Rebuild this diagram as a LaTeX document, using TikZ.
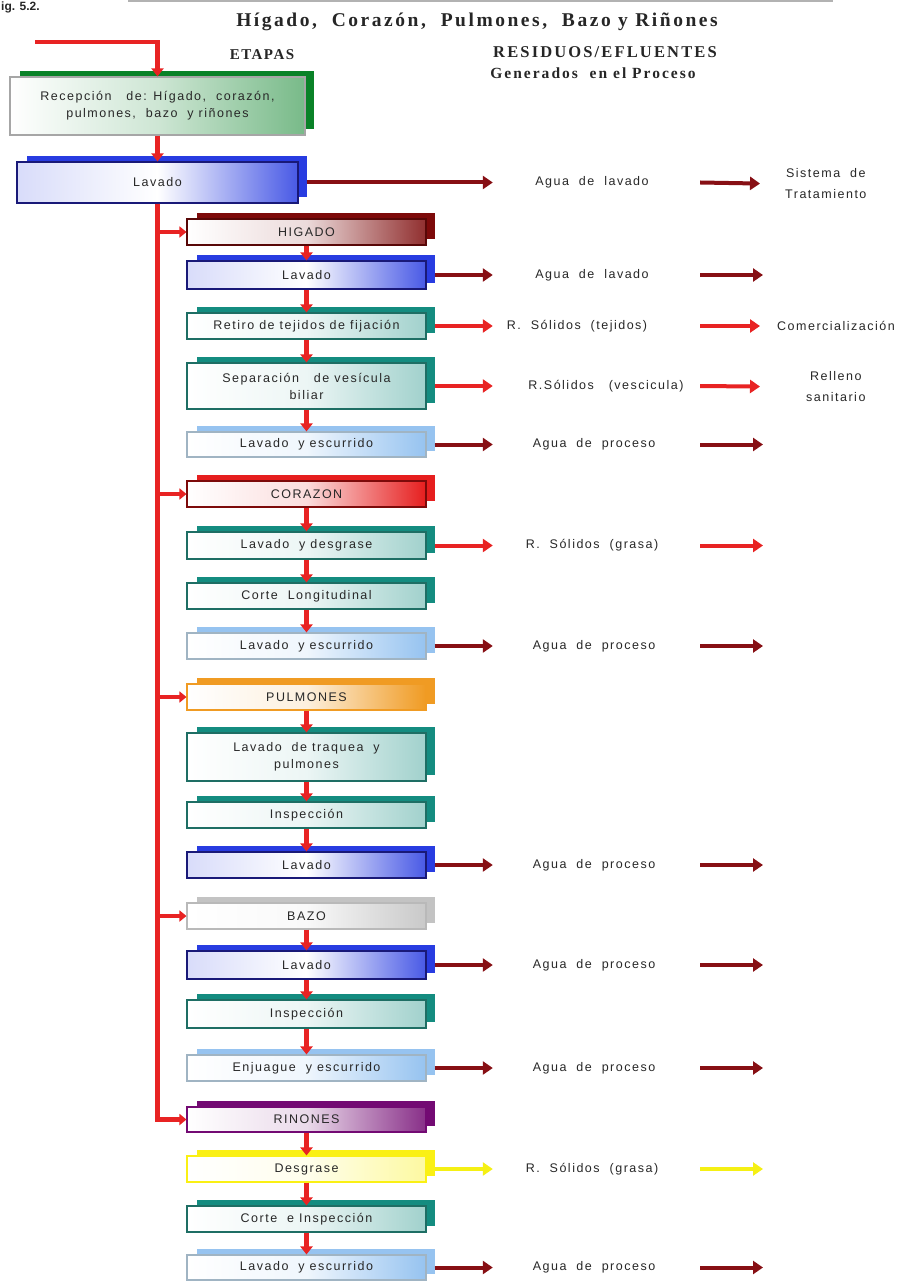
\documentclass[tikz,border=0pt]{standalone}
\usepackage{fontspec}
\usetikzlibrary{arrows.meta,calc}
\newfontfamily\boxfont[LetterSpace=12]{Liberation Sans}
\newfontfamily\headfont[LetterSpace=10]{Liberation Serif}
\newfontfamily\headwide[LetterSpace=13]{Liberation Serif}
\newfontfamily\figfont{Liberation Sans}
\definecolor{txt}{RGB}{40,40,40}
\definecolor{cmaroon}{RGB}{125,10,10}
\definecolor{cblue}{RGB}{40,60,225}
\definecolor{cnavy}{RGB}{25,25,120}
\definecolor{cteal}{RGB}{20,140,128}
\definecolor{ctealdk}{RGB}{30,110,100}
\definecolor{csky}{RGB}{150,195,240}
\definecolor{cskybd}{RGB}{160,180,195}
\definecolor{cgreen}{RGB}{10,130,40}
\definecolor{cred}{RGB}{230,30,30}
\definecolor{corange}{RGB}{240,155,35}
\definecolor{cgray}{RGB}{195,195,195}
\definecolor{cpurple}{RGB}{115,10,115}
\definecolor{cyellow}{RGB}{250,240,20}
\definecolor{adark}{RGB}{135,15,20}
\definecolor{ared}{RGB}{232,35,35}
\definecolor{ayel}{RGB}{245,240,20}
% stage box: name, cx, cy, w, h, kind, text
\newcommand{\stage}[7]{%
  \fill[#6back] ({#2-#4/2+10},{#3-#5/2-6}) rectangle ({#2+#4/2+9},{#3+#5/2-6});
  \node[stagebox,#6,minimum width=#4,minimum height=#5] (#1) at (#2,#3) {#7};}
% waste label: box, id, colour, shift, text, y
\newcommand{\waste}[6]{%
  \node[wlabel] (w#2) at (596.5,#6) {\hspace*{#4pt}#5};
  \draw[side,draw=#3,fill=#3,shorten <=8] (#1.east) -- (w#2.west);}
\begin{document}
\begin{tikzpicture}[x=1pt,y=-1pt,
  stagebox/.style={rectangle, inner sep=0pt, line width=1.1pt, align=center,
    font=\boxfont\fontsize{12.5}{17}\selectfont, text=txt},
  wlabel/.style={rectangle, inner sep=0pt, minimum width=207, minimum height=14,
    font=\boxfont\fontsize{12.5}{15}\selectfont, text=txt},
  dlabel/.style={inner sep=0pt, align=center, anchor=west,
    font=\boxfont\fontsize{12.5}{21}\selectfont, text=txt},
  grn/.style={draw=gray!70, left color=white, right color=cgreen!55, middle color=white!80!cgreen},
  grnback/.style={fill=cgreen},
  blu/.style={draw=cnavy, left color=cblue!18, right color=cblue!85, middle color=white},
  bluback/.style={fill=cblue},
  tea/.style={draw=ctealdk, left color=white, right color=cteal!40, middle color=white!92!cteal},
  teaback/.style={fill=cteal},
  sky/.style={draw=cskybd, left color=white, right color=csky, middle color=white!85!csky},
  skyback/.style={fill=csky},
  mar/.style={draw=cmaroon!70!black, left color=white, right color=cmaroon!85, middle color=white!85!cmaroon},
  marback/.style={fill=cmaroon},
  rd/.style={draw=cmaroon, left color=white, right color=cred, middle color=white!85!cred},
  rdback/.style={fill=cred},
  ora/.style={draw=corange, left color=white, right color=corange, middle color=white!85!corange},
  oraback/.style={fill=corange},
  gry/.style={draw=gray!55, left color=white, right color=cgray!90, middle color=white!90!cgray},
  gryback/.style={fill=cgray},
  pur/.style={draw=cpurple, left color=white, right color=cpurple!85, middle color=white!85!cpurple},
  purback/.style={fill=cpurple},
  yel/.style={draw=cyellow, left color=white, right color=cyellow!40, middle color=white!92!cyellow},
  yelback/.style={fill=cyellow},
  flow/.style={draw=ared, line width=4.5pt, -{Triangle[length=8pt,width=12pt]}},
  branch/.style={draw=ared, line width=3.5pt, -{Triangle[length=7pt,width=11pt]}},
  side/.style={line width=4pt, -{Triangle[length=10pt,width=13pt]}}
]
\useasboundingbox (0,0) rectangle (900,1281);
\clip (0,0) rectangle (900,1281);
\fill[white] (0,0) rectangle (900,1281);

% header
\node[font=\figfont\bfseries\fontsize{12}{14}\selectfont, text=black!85, anchor=base west, inner sep=0pt] (fig) at (1,11) {ig. 5.2.};
\draw[gray!60, line width=1.2pt] (128,1) -- (833,1);
\node[font=\headwide\bfseries\fontsize{19.5}{22}\selectfont, text=black!85] (title) at (477,22) {Hígado,\ \ Corazón,\ \ Pulmones,\ \ Bazo y Riñones};
\node[font=\headfont\bfseries\fontsize{15}{18}\selectfont, text=black!85] (etapas) at (262,55) {ETAPAS};
\node[font=\headwide\bfseries\fontsize{16.5}{18}\selectfont, text=black!85] (resid) at (605,52) {RESIDUOS/EFLUENTES};
\node[font=\headwide\bfseries\fontsize{15.5}{17}\selectfont, text=black!85] (gener) at (593,73) {Generados\ \ en el Proceso};

% main stages
\stage{rec}{157.5}{106}{295}{58}{grn}{\fontsize{12.5}{25}\selectfont Recepción\ \ \ de: Hígado,\ \ corazón,\\pulmones,\ \ bazo\ \ y riñones}
\stage{lav0}{157.5}{182.5}{281}{41}{blu}{Lavado}

\stage{hig}{306.5}{232}{239}{26}{mar}{HIGADO}
\stage{l1}{306.5}{275}{239}{28}{blu}{Lavado}
\stage{r1}{306.5}{326}{239}{26}{tea}{Retiro de tejidos de fijación}
\stage{s1}{306.5}{386}{239}{46}{tea}{\fontsize{12.5}{19}\selectfont Separación\ \ \ de vesícula\\biliar}
\stage{e1}{306.5}{444.5}{239}{25}{sky}{Lavado\ \ y escurrido}

\stage{cor}{306.5}{494}{239}{26}{rd}{CORAZON}
\stage{l2}{306.5}{545.5}{239}{27}{tea}{Lavado\ \ y desgrase}
\stage{c2}{306.5}{596}{239}{26}{tea}{Corte\ \ Longitudinal}
\stage{e2}{306.5}{646}{239}{26}{sky}{Lavado\ \ y escurrido}

\stage{pul}{306.5}{697}{239}{26}{ora}{PULMONES}
\stage{t3}{306.5}{757}{239}{48}{tea}{\fontsize{12.5}{21}\selectfont Lavado\ \ de traquea\ \ y\\pulmones}
\stage{i3}{306.5}{815}{239}{26}{tea}{Inspección}
\stage{l3}{306.5}{865}{239}{26}{blu}{Lavado}

\stage{baz}{306.5}{916}{239}{26}{gry}{BAZO}
\stage{l4}{306.5}{965}{239}{28}{blu}{Lavado}
\stage{i4}{306.5}{1014}{239}{28}{tea}{Inspección}
\stage{e4}{306.5}{1068}{239}{26}{sky}{Enjuague\ \ y escurrido}

\stage{rin}{306.5}{1119.5}{239}{25}{pur}{RINONES}
\stage{d5}{306.5}{1169}{239}{26}{yel}{Desgrase}
\stage{c5}{306.5}{1219}{239}{26}{tea}{Corte\ \ e Inspección}
\stage{e5}{306.5}{1267.5}{239}{25}{sky}{Lavado\ \ y escurrido}

% input and main flow
\coordinate (in) at (35,42);
\draw[flow] (in) -| (rec.north);
\draw[flow] (rec.south) -- (lav0.north);
\draw[draw=ared, line width=4.5pt, -{Triangle[length=7pt,width=11pt]}] (lav0.south) |- (rin.west);
\draw[branch] (lav0.south |- hig.west) -- (hig.west);
\draw[branch] (lav0.south |- cor.west) -- (cor.west);
\draw[branch] (lav0.south |- pul.west) -- (pul.west);
\draw[branch] (lav0.south |- baz.west) -- (baz.west);

\draw[flow] (hig.south) -- (l1.north);
\draw[flow] (l1.south) -- (r1.north);
\draw[flow] (r1.south) -- (s1.north);
\draw[flow] (s1.south) -- (e1.north);
\draw[flow] (cor.south) -- (l2.north);
\draw[flow] (l2.south) -- (c2.north);
\draw[flow] (c2.south) -- (e2.north);
\draw[flow] (pul.south) -- (t3.north);
\draw[flow] (t3.south) -- (i3.north);
\draw[flow] (i3.south) -- (l3.north);
\draw[flow] (baz.south) -- (l4.north);
\draw[flow] (l4.south) -- (i4.north);
\draw[flow] (i4.south) -- (e4.north);
\draw[flow] (rin.south) -- (d5.north);
\draw[flow] (d5.south) -- (c5.north);
\draw[flow] (c5.south) -- (e5.north);

% wastes
\waste{lav0}{0}{adark}{-9}{Agua\ \ de\ \ lavado}{182.5}
\node[dlabel] (dst0) at (785,184) {Sistema\ \ de\\Tratamiento};
\draw[side,draw=adark,fill=adark,shorten >=25] (w0.east) -- (dst0.west);

\waste{l1}{1}{adark}{-9}{Agua\ \ de\ \ lavado}{275}
\coordinate (x1) at (763,275);
\draw[side,draw=adark,fill=adark] (w1.east) -- (x1);

\waste{r1}{2}{ared}{-39}{R.\ \ Sólidos\ \ (tejidos)}{326}
\node[dlabel] (dst2) at (777,326) {Comercialización};
\draw[side,draw=ared,fill=ared,shorten >=17] (w2.east) -- (dst2.west);

\waste{s1}{3}{ared}{19}{R.Sólidos\ \ \ (vescicula)}{386}
\node[dlabel] (dst3) at (806,387) {Relleno\\sanitario};
\draw[side,draw=ared,fill=ared,shorten >=46] (w3.east) -- (dst3.west);

\waste{e1}{4}{adark}{-5}{Agua\ \ de\ \ proceso}{444.5}
\coordinate (x4) at (763,444.5);
\draw[side,draw=adark,fill=adark] (w4.east) -- (x4);

\waste{l2}{5}{ared}{-9}{R.\ \ Sólidos\ \ (grasa)}{545.5}
\coordinate (x5) at (763,545.5);
\draw[side,draw=ared,fill=ared] (w5.east) -- (x5);

\waste{e2}{6}{adark}{-5}{Agua\ \ de\ \ proceso}{646}
\coordinate (x6) at (763,646);
\draw[side,draw=adark,fill=adark] (w6.east) -- (x6);

\waste{l3}{7}{adark}{-5}{Agua\ \ de\ \ proceso}{865}
\coordinate (x7) at (763,865);
\draw[side,draw=adark,fill=adark] (w7.east) -- (x7);

\waste{l4}{8}{adark}{-5}{Agua\ \ de\ \ proceso}{965}
\coordinate (x8) at (763,965);
\draw[side,draw=adark,fill=adark] (w8.east) -- (x8);

\waste{e4}{9}{adark}{-5}{Agua\ \ de\ \ proceso}{1068}
\coordinate (x9) at (763,1068);
\draw[side,draw=adark,fill=adark] (w9.east) -- (x9);

\waste{d5}{10}{ayel}{-9}{R.\ \ Sólidos\ \ (grasa)}{1169}
\coordinate (x10) at (763,1169);
\draw[side,draw=ayel,fill=ayel] (w10.east) -- (x10);

\waste{e5}{11}{adark}{-5}{Agua\ \ de\ \ proceso}{1267.5}
\coordinate (x11) at (763,1267.5);
\draw[side,draw=adark,fill=adark] (w11.east) -- (x11);
\end{tikzpicture}
\end{document}
